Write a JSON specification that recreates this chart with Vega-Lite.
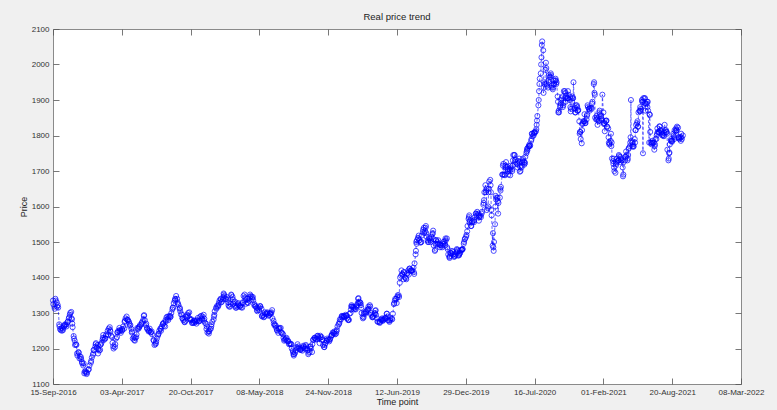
{
"$schema":"https://vega.github.io/schema/vega-lite/v6.json",
"width":688,"height":355,
"autosize":{"type":"none"},
"padding":{"left":53,"top":29,"right":36,"bottom":26},
"background":"#f0f0f0",
"config":{"view":{"stroke":"#8a8a8a","fill":"white","strokeWidth":1},"font":"Liberation Sans",
"axis":{"domain":false,"grid":false,"tickColor":"#555555","tickWidth":0.8,"labelColor":"#333333","labelFontSize":8,"labelFont":"Liberation Sans","titleFont":"Liberation Sans","titleFontSize":9,"titleFontWeight":"normal","titleColor":"#222222"}},
"title":{"text":"Real price trend","fontSize":9.5,"fontWeight":"normal","color":"#222222","offset":4,"anchor":"middle","font":"Liberation Sans"},
"datasets":{"gold":[
{"d":"2016-09-15","p":1335},{"d":"2016-09-19","p":1318},{"d":"2016-09-22","p":1340},{"d":"2016-09-26","p":1330},{"d":"2016-09-29","p":1322},
{"d":"2016-10-03","p":1268},{"d":"2016-10-06","p":1255},{"d":"2016-10-10","p":1258},{"d":"2016-10-13","p":1256},{"d":"2016-10-17","p":1265},{"d":"2016-10-20","p":1268},{"d":"2016-10-24","p":1262},{"d":"2016-10-27","p":1274},{"d":"2016-10-31","p":1285},
{"d":"2016-11-03","p":1295},{"d":"2016-11-07","p":1303},{"d":"2016-11-09","p":1282},{"d":"2016-11-11","p":1260},{"d":"2016-11-14","p":1235},{"d":"2016-11-17","p":1222},{"d":"2016-11-21","p":1212},{"d":"2016-11-24","p":1186},{"d":"2016-11-28","p":1190},
{"d":"2016-12-01","p":1172},{"d":"2016-12-05","p":1176},{"d":"2016-12-08","p":1162},{"d":"2016-12-12","p":1152},{"d":"2016-12-15","p":1130},{"d":"2016-12-19","p":1136},{"d":"2016-12-22","p":1128},{"d":"2016-12-27","p":1140},{"d":"2016-12-30","p":1152},
{"d":"2017-01-03","p":1160},{"d":"2017-01-06","p":1175},{"d":"2017-01-10","p":1186},{"d":"2017-01-13","p":1196},{"d":"2017-01-17","p":1212},{"d":"2017-01-20","p":1202},{"d":"2017-01-24","p":1186},{"d":"2017-01-27","p":1194},{"d":"2017-01-31","p":1210},
{"d":"2017-02-03","p":1216},{"d":"2017-02-07","p":1230},{"d":"2017-02-10","p":1224},{"d":"2017-02-14","p":1228},{"d":"2017-02-17","p":1240},{"d":"2017-02-21","p":1250},{"d":"2017-02-24","p":1256},{"d":"2017-02-28","p":1252},
{"d":"2017-03-03","p":1236},{"d":"2017-03-07","p":1216},{"d":"2017-03-10","p":1200},{"d":"2017-03-14","p":1204},{"d":"2017-03-17","p":1228},{"d":"2017-03-21","p":1245},{"d":"2017-03-24","p":1250},{"d":"2017-03-28","p":1248},{"d":"2017-03-31","p":1244},
{"d":"2017-04-04","p":1255},{"d":"2017-04-07","p":1262},{"d":"2017-04-11","p":1275},{"d":"2017-04-14","p":1285},{"d":"2017-04-18","p":1282},{"d":"2017-04-21","p":1280},{"d":"2017-04-25","p":1270},{"d":"2017-04-28","p":1266},
{"d":"2017-05-02","p":1245},{"d":"2017-05-05","p":1228},{"d":"2017-05-09","p":1224},{"d":"2017-05-12","p":1230},{"d":"2017-05-16","p":1240},{"d":"2017-05-19","p":1255},{"d":"2017-05-23","p":1260},{"d":"2017-05-26","p":1266},{"d":"2017-05-30","p":1268},
{"d":"2017-06-02","p":1276},{"d":"2017-06-06","p":1292},{"d":"2017-06-09","p":1280},{"d":"2017-06-13","p":1270},{"d":"2017-06-16","p":1255},{"d":"2017-06-20","p":1248},{"d":"2017-06-23","p":1256},{"d":"2017-06-27","p":1245},{"d":"2017-06-30","p":1240},
{"d":"2017-07-04","p":1224},{"d":"2017-07-07","p":1210},{"d":"2017-07-11","p":1215},{"d":"2017-07-14","p":1228},{"d":"2017-07-18","p":1240},{"d":"2017-07-21","p":1250},{"d":"2017-07-25","p":1255},{"d":"2017-07-28","p":1262},
{"d":"2017-08-01","p":1270},{"d":"2017-08-04","p":1264},{"d":"2017-08-08","p":1280},{"d":"2017-08-11","p":1288},{"d":"2017-08-15","p":1284},{"d":"2017-08-18","p":1290},{"d":"2017-08-22","p":1288},{"d":"2017-08-25","p":1300},{"d":"2017-08-29","p":1315},
{"d":"2017-09-01","p":1328},{"d":"2017-09-05","p":1340},{"d":"2017-09-08","p":1348},{"d":"2017-09-12","p":1330},{"d":"2017-09-15","p":1322},{"d":"2017-09-19","p":1314},{"d":"2017-09-22","p":1296},{"d":"2017-09-26","p":1286},{"d":"2017-09-29","p":1280},
{"d":"2017-10-03","p":1274},{"d":"2017-10-06","p":1290},{"d":"2017-10-10","p":1295},{"d":"2017-10-13","p":1300},{"d":"2017-10-17","p":1285},{"d":"2017-10-20","p":1280},{"d":"2017-10-24","p":1272},{"d":"2017-10-27","p":1275},{"d":"2017-10-31","p":1278},
{"d":"2017-11-03","p":1274},{"d":"2017-11-07","p":1280},{"d":"2017-11-10","p":1286},{"d":"2017-11-14","p":1278},{"d":"2017-11-17","p":1290},{"d":"2017-11-21","p":1285},{"d":"2017-11-24","p":1290},{"d":"2017-11-28","p":1278},
{"d":"2017-12-01","p":1272},{"d":"2017-12-05","p":1255},{"d":"2017-12-08","p":1245},{"d":"2017-12-12","p":1242},{"d":"2017-12-15","p":1254},{"d":"2017-12-19","p":1262},{"d":"2017-12-22","p":1275},{"d":"2017-12-27","p":1290},{"d":"2017-12-29","p":1305},
{"d":"2018-01-02","p":1315},{"d":"2018-01-05","p":1320},{"d":"2018-01-09","p":1322},{"d":"2018-01-12","p":1335},{"d":"2018-01-16","p":1338},{"d":"2018-01-19","p":1332},{"d":"2018-01-23","p":1345},{"d":"2018-01-25","p":1352},{"d":"2018-01-30","p":1340},
{"d":"2018-02-02","p":1345},{"d":"2018-02-06","p":1330},{"d":"2018-02-09","p":1318},{"d":"2018-02-13","p":1325},{"d":"2018-02-16","p":1350},{"d":"2018-02-20","p":1338},{"d":"2018-02-23","p":1330},{"d":"2018-02-27","p":1320},
{"d":"2018-03-02","p":1315},{"d":"2018-03-06","p":1325},{"d":"2018-03-09","p":1322},{"d":"2018-03-13","p":1320},{"d":"2018-03-16","p":1316},{"d":"2018-03-20","p":1330},{"d":"2018-03-23","p":1348},{"d":"2018-03-27","p":1344},{"d":"2018-03-30","p":1326},
{"d":"2018-04-03","p":1330},{"d":"2018-04-06","p":1340},{"d":"2018-04-10","p":1345},{"d":"2018-04-13","p":1348},{"d":"2018-04-17","p":1340},{"d":"2018-04-20","p":1336},{"d":"2018-04-24","p":1325},{"d":"2018-04-27","p":1320},
{"d":"2018-05-01","p":1308},{"d":"2018-05-04","p":1312},{"d":"2018-05-08","p":1315},{"d":"2018-05-11","p":1318},{"d":"2018-05-15","p":1292},{"d":"2018-05-18","p":1294},{"d":"2018-05-22","p":1290},{"d":"2018-05-25","p":1298},{"d":"2018-05-29","p":1300},
{"d":"2018-06-01","p":1298},{"d":"2018-06-05","p":1294},{"d":"2018-06-08","p":1300},{"d":"2018-06-12","p":1302},{"d":"2018-06-15","p":1285},{"d":"2018-06-19","p":1270},{"d":"2018-06-22","p":1268},{"d":"2018-06-26","p":1258},{"d":"2018-06-29","p":1250},
{"d":"2018-07-03","p":1255},{"d":"2018-07-06","p":1258},{"d":"2018-07-10","p":1245},{"d":"2018-07-13","p":1242},{"d":"2018-07-17","p":1230},{"d":"2018-07-20","p":1225},{"d":"2018-07-24","p":1228},{"d":"2018-07-27","p":1222},{"d":"2018-07-31","p":1220},
{"d":"2018-08-03","p":1214},{"d":"2018-08-07","p":1212},{"d":"2018-08-10","p":1200},{"d":"2018-08-14","p":1190},{"d":"2018-08-16","p":1180},{"d":"2018-08-20","p":1188},{"d":"2018-08-24","p":1204},{"d":"2018-08-28","p":1202},{"d":"2018-08-31","p":1200},
{"d":"2018-09-04","p":1196},{"d":"2018-09-07","p":1200},{"d":"2018-09-11","p":1202},{"d":"2018-09-14","p":1205},{"d":"2018-09-18","p":1200},{"d":"2018-09-21","p":1206},{"d":"2018-09-25","p":1195},{"d":"2018-09-28","p":1188},
{"d":"2018-10-02","p":1205},{"d":"2018-10-05","p":1200},{"d":"2018-10-09","p":1212},{"d":"2018-10-12","p":1225},{"d":"2018-10-16","p":1230},{"d":"2018-10-19","p":1225},{"d":"2018-10-23","p":1235},{"d":"2018-10-26","p":1232},{"d":"2018-10-30","p":1215},
{"d":"2018-11-02","p":1232},{"d":"2018-11-06","p":1224},{"d":"2018-11-09","p":1210},{"d":"2018-11-13","p":1204},{"d":"2018-11-16","p":1215},{"d":"2018-11-20","p":1222},{"d":"2018-11-23","p":1225},{"d":"2018-11-27","p":1220},{"d":"2018-11-30","p":1228},
{"d":"2018-12-04","p":1238},{"d":"2018-12-07","p":1245},{"d":"2018-12-11","p":1242},{"d":"2018-12-14","p":1240},{"d":"2018-12-18","p":1248},{"d":"2018-12-21","p":1262},{"d":"2018-12-26","p":1270},{"d":"2018-12-28","p":1282},
{"d":"2019-01-02","p":1290},{"d":"2019-01-04","p":1288},{"d":"2019-01-08","p":1292},{"d":"2019-01-11","p":1290},{"d":"2019-01-15","p":1292},{"d":"2019-01-18","p":1285},{"d":"2019-01-22","p":1282},{"d":"2019-01-25","p":1298},{"d":"2019-01-29","p":1310},{"d":"2019-01-31","p":1322},
{"d":"2019-02-04","p":1318},{"d":"2019-02-07","p":1310},{"d":"2019-02-11","p":1312},{"d":"2019-02-14","p":1318},{"d":"2019-02-18","p":1328},{"d":"2019-02-20","p":1342},{"d":"2019-02-22","p":1332},{"d":"2019-02-26","p":1328},{"d":"2019-02-28","p":1315},
{"d":"2019-03-04","p":1290},{"d":"2019-03-07","p":1288},{"d":"2019-03-11","p":1302},{"d":"2019-03-14","p":1305},{"d":"2019-03-18","p":1310},{"d":"2019-03-21","p":1318},{"d":"2019-03-25","p":1322},{"d":"2019-03-28","p":1300},
{"d":"2019-04-02","p":1290},{"d":"2019-04-04","p":1292},{"d":"2019-04-09","p":1300},{"d":"2019-04-11","p":1308},{"d":"2019-04-15","p":1285},{"d":"2019-04-18","p":1275},{"d":"2019-04-23","p":1272},{"d":"2019-04-26","p":1282},{"d":"2019-04-30","p":1285},
{"d":"2019-05-02","p":1278},{"d":"2019-05-06","p":1282},{"d":"2019-05-09","p":1285},{"d":"2019-05-13","p":1298},{"d":"2019-05-16","p":1290},{"d":"2019-05-20","p":1278},{"d":"2019-05-23","p":1280},{"d":"2019-05-28","p":1285},{"d":"2019-05-31","p":1298},
{"d":"2019-06-03","p":1325},{"d":"2019-06-06","p":1335},{"d":"2019-06-10","p":1340},{"d":"2019-06-13","p":1345},{"d":"2019-06-17","p":1350},{"d":"2019-06-20","p":1385},{"d":"2019-06-24","p":1405},{"d":"2019-06-27","p":1410},
{"d":"2019-07-01","p":1395},{"d":"2019-07-03","p":1415},{"d":"2019-07-08","p":1398},{"d":"2019-07-11","p":1410},{"d":"2019-07-15","p":1420},{"d":"2019-07-18","p":1425},{"d":"2019-07-22","p":1420},{"d":"2019-07-25","p":1418},{"d":"2019-07-30","p":1428},
{"d":"2019-08-02","p":1440},{"d":"2019-08-05","p":1465},{"d":"2019-08-07","p":1500},{"d":"2019-08-09","p":1505},{"d":"2019-08-13","p":1510},{"d":"2019-08-16","p":1505},{"d":"2019-08-20","p":1500},{"d":"2019-08-23","p":1518},{"d":"2019-08-27","p":1535},{"d":"2019-08-30","p":1525},
{"d":"2019-09-03","p":1540},{"d":"2019-09-04","p":1545},{"d":"2019-09-06","p":1515},{"d":"2019-09-10","p":1500},{"d":"2019-09-13","p":1510},{"d":"2019-09-17","p":1505},{"d":"2019-09-20","p":1515},{"d":"2019-09-24","p":1525},{"d":"2019-09-27","p":1490},{"d":"2019-09-30","p":1475},
{"d":"2019-10-02","p":1495},{"d":"2019-10-04","p":1505},{"d":"2019-10-08","p":1500},{"d":"2019-10-11","p":1495},{"d":"2019-10-15","p":1485},{"d":"2019-10-18","p":1490},{"d":"2019-10-22","p":1490},{"d":"2019-10-25","p":1500},{"d":"2019-10-29","p":1495},{"d":"2019-10-31","p":1510},
{"d":"2019-11-01","p":1505},{"d":"2019-11-05","p":1485},{"d":"2019-11-08","p":1465},{"d":"2019-11-12","p":1455},{"d":"2019-11-14","p":1470},{"d":"2019-11-18","p":1468},{"d":"2019-11-21","p":1472},{"d":"2019-11-26","p":1462},{"d":"2019-11-29","p":1465},
{"d":"2019-12-02","p":1470},{"d":"2019-12-05","p":1475},{"d":"2019-12-09","p":1462},{"d":"2019-12-12","p":1475},{"d":"2019-12-16","p":1478},{"d":"2019-12-19","p":1480},{"d":"2019-12-23","p":1495},{"d":"2019-12-27","p":1510},{"d":"2019-12-31","p":1520},
{"d":"2020-01-03","p":1545},{"d":"2020-01-07","p":1570},{"d":"2020-01-09","p":1555},{"d":"2020-01-13","p":1545},{"d":"2020-01-16","p":1555},{"d":"2020-01-21","p":1560},{"d":"2020-01-24","p":1570},{"d":"2020-01-28","p":1580},{"d":"2020-01-31","p":1585},
{"d":"2020-02-04","p":1575},{"d":"2020-02-06","p":1570},{"d":"2020-02-10","p":1575},{"d":"2020-02-13","p":1580},{"d":"2020-02-18","p":1605},{"d":"2020-02-20","p":1618},{"d":"2020-02-24","p":1660},{"d":"2020-02-26","p":1645},{"d":"2020-02-28","p":1590},
{"d":"2020-03-02","p":1595},{"d":"2020-03-04","p":1640},{"d":"2020-03-06","p":1670},{"d":"2020-03-09","p":1675},{"d":"2020-03-11","p":1640},{"d":"2020-03-13","p":1575},{"d":"2020-03-16","p":1490},{"d":"2020-03-19","p":1475},{"d":"2020-03-20","p":1500},{"d":"2020-03-24","p":1600},{"d":"2020-03-26","p":1620},{"d":"2020-03-31","p":1615},
{"d":"2020-04-01","p":1580},{"d":"2020-04-06","p":1625},{"d":"2020-04-09","p":1655},{"d":"2020-04-14","p":1690},{"d":"2020-04-15","p":1715},{"d":"2020-04-20","p":1690},{"d":"2020-04-23","p":1710},{"d":"2020-04-24","p":1725},{"d":"2020-04-29","p":1700},
{"d":"2020-05-01","p":1690},{"d":"2020-05-05","p":1700},{"d":"2020-05-08","p":1710},{"d":"2020-05-11","p":1705},{"d":"2020-05-14","p":1730},{"d":"2020-05-18","p":1745},{"d":"2020-05-20","p":1730},{"d":"2020-05-26","p":1720},{"d":"2020-05-29","p":1728},
{"d":"2020-06-01","p":1735},{"d":"2020-06-05","p":1700},{"d":"2020-06-08","p":1710},{"d":"2020-06-10","p":1725},{"d":"2020-06-12","p":1735},{"d":"2020-06-16","p":1718},{"d":"2020-06-19","p":1740},{"d":"2020-06-23","p":1755},{"d":"2020-06-26","p":1765},{"d":"2020-06-30","p":1770},
{"d":"2020-07-02","p":1770},{"d":"2020-07-06","p":1785},{"d":"2020-07-08","p":1805},{"d":"2020-07-13","p":1800},{"d":"2020-07-16","p":1810},{"d":"2020-07-20","p":1812},{"d":"2020-07-22","p":1830},{"d":"2020-07-24","p":1855},{"d":"2020-07-27","p":1885},{"d":"2020-07-29","p":1925},{"d":"2020-07-31","p":1960},
{"d":"2020-08-03","p":1975},{"d":"2020-08-05","p":2020},{"d":"2020-08-06","p":2055},{"d":"2020-08-07","p":2065},{"d":"2020-08-10","p":2040},{"d":"2020-08-11","p":1920},{"d":"2020-08-13","p":1950},{"d":"2020-08-17","p":1985},{"d":"2020-08-18","p":2005},{"d":"2020-08-21","p":1940},{"d":"2020-08-25","p":1955},{"d":"2020-08-27","p":1970},{"d":"2020-08-31","p":1965},
{"d":"2020-09-02","p":1970},{"d":"2020-09-04","p":1935},{"d":"2020-09-08","p":1935},{"d":"2020-09-10","p":1955},{"d":"2020-09-15","p":1960},{"d":"2020-09-17","p":1945},{"d":"2020-09-21","p":1910},{"d":"2020-09-24","p":1870},{"d":"2020-09-28","p":1880},{"d":"2020-09-30","p":1890},
{"d":"2020-10-02","p":1905},{"d":"2020-10-06","p":1880},{"d":"2020-10-09","p":1925},{"d":"2020-10-13","p":1920},{"d":"2020-10-16","p":1905},{"d":"2020-10-20","p":1905},{"d":"2020-10-23","p":1915},{"d":"2020-10-28","p":1880},{"d":"2020-10-30","p":1875},
{"d":"2020-11-02","p":1895},{"d":"2020-11-05","p":1905},{"d":"2020-11-06","p":1950},{"d":"2020-11-09","p":1875},{"d":"2020-11-12","p":1865},{"d":"2020-11-16","p":1885},{"d":"2020-11-19","p":1870},{"d":"2020-11-23","p":1840},{"d":"2020-11-24","p":1805},{"d":"2020-11-26","p":1810},{"d":"2020-11-30","p":1778},
{"d":"2020-12-01","p":1815},{"d":"2020-12-03","p":1835},{"d":"2020-12-07","p":1840},{"d":"2020-12-08","p":1860},{"d":"2020-12-11","p":1835},{"d":"2020-12-15","p":1855},{"d":"2020-12-18","p":1880},{"d":"2020-12-22","p":1875},{"d":"2020-12-24","p":1878},{"d":"2020-12-30","p":1890},
{"d":"2021-01-04","p":1945},{"d":"2021-01-05","p":1950},{"d":"2021-01-07","p":1915},{"d":"2021-01-08","p":1850},{"d":"2021-01-11","p":1845},{"d":"2021-01-14","p":1845},{"d":"2021-01-15","p":1830},{"d":"2021-01-20","p":1865},{"d":"2021-01-22","p":1860},{"d":"2021-01-26","p":1848},{"d":"2021-01-29","p":1915},
{"d":"2021-02-01","p":1865},{"d":"2021-02-02","p":1835},{"d":"2021-02-04","p":1835},{"d":"2021-02-08","p":1840},{"d":"2021-02-10","p":1842},{"d":"2021-02-12","p":1825},{"d":"2021-02-16","p":1795},{"d":"2021-02-18","p":1775},{"d":"2021-02-22","p":1785},{"d":"2021-02-24","p":1770},{"d":"2021-02-26","p":1735},
{"d":"2021-03-02","p":1720},{"d":"2021-03-04","p":1710},{"d":"2021-03-08","p":1695},{"d":"2021-03-10","p":1720},{"d":"2021-03-12","p":1735},{"d":"2021-03-16","p":1730},{"d":"2021-03-18","p":1745},{"d":"2021-03-22","p":1740},{"d":"2021-03-25","p":1730},{"d":"2021-03-31","p":1690},
{"d":"2021-04-01","p":1725},{"d":"2021-04-06","p":1740},{"d":"2021-04-09","p":1745},{"d":"2021-04-13","p":1735},{"d":"2021-04-16","p":1765},{"d":"2021-04-20","p":1780},{"d":"2021-04-22","p":1900},{"d":"2021-04-23","p":1785},{"d":"2021-04-27","p":1770},{"d":"2021-04-30","p":1770},
{"d":"2021-05-03","p":1790},{"d":"2021-05-05","p":1815},{"d":"2021-05-07","p":1830},{"d":"2021-05-11","p":1840},{"d":"2021-05-14","p":1865},{"d":"2021-05-17","p":1870},{"d":"2021-05-19","p":1880},{"d":"2021-05-21","p":1875},{"d":"2021-05-24","p":1900},{"d":"2021-05-26","p":1895},{"d":"2021-05-27","p":1750},{"d":"2021-05-28","p":1905},
{"d":"2021-06-01","p":1890},{"d":"2021-06-03","p":1870},{"d":"2021-06-07","p":1890},{"d":"2021-06-09","p":1880},{"d":"2021-06-11","p":1870},{"d":"2021-06-14","p":1780},{"d":"2021-06-15","p":1860},{"d":"2021-06-17","p":1810},{"d":"2021-06-18","p":1780},{"d":"2021-06-21","p":1775},{"d":"2021-06-24","p":1785},{"d":"2021-06-28","p":1780},{"d":"2021-06-30","p":1770},
{"d":"2021-07-02","p":1790},{"d":"2021-07-06","p":1800},{"d":"2021-07-08","p":1820},{"d":"2021-07-12","p":1810},{"d":"2021-07-15","p":1825},{"d":"2021-07-19","p":1815},{"d":"2021-07-22","p":1800},{"d":"2021-07-26","p":1800},{"d":"2021-07-29","p":1830},
{"d":"2021-08-02","p":1815},{"d":"2021-08-04","p":1810},{"d":"2021-08-06","p":1760},{"d":"2021-08-09","p":1730},{"d":"2021-08-11","p":1750},{"d":"2021-08-13","p":1775},{"d":"2021-08-17","p":1790},{"d":"2021-08-20","p":1785},{"d":"2021-08-24","p":1800},{"d":"2021-08-27","p":1815},{"d":"2021-08-31","p":1820},
{"d":"2021-09-02","p":1815},{"d":"2021-09-03","p":1825},{"d":"2021-09-07","p":1795},{"d":"2021-09-10","p":1790},{"d":"2021-09-14","p":1785},{"d":"2021-09-16","p":1795},{"d":"2021-09-20","p":1800},
{"d":"2016-09-16","p":1325},{"d":"2016-09-20","p":1312},{"d":"2016-09-23","p":1335},{"d":"2016-09-27","p":1318},{"d":"2016-09-30","p":1315},
{"d":"2016-10-04","p":1262},{"d":"2016-10-07","p":1252},{"d":"2016-10-11","p":1250},{"d":"2016-10-14","p":1252},{"d":"2016-10-18","p":1262},{"d":"2016-10-21","p":1266},{"d":"2016-10-25","p":1268},{"d":"2016-10-28","p":1276},{"d":"2016-11-01","p":1288},
{"d":"2016-11-04","p":1300},{"d":"2016-11-08","p":1285},{"d":"2016-11-10","p":1270},{"d":"2016-11-15","p":1228},{"d":"2016-11-18","p":1210},{"d":"2016-11-22","p":1210},{"d":"2016-11-25","p":1180},{"d":"2016-11-29","p":1188},
{"d":"2016-12-02","p":1178},{"d":"2016-12-06","p":1170},{"d":"2016-12-09","p":1158},{"d":"2016-12-13","p":1158},{"d":"2016-12-16","p":1135},{"d":"2016-12-20","p":1132},{"d":"2016-12-23","p":1132},{"d":"2016-12-28","p":1142},
{"d":"2017-01-04","p":1165},{"d":"2017-01-09","p":1182},{"d":"2017-01-11","p":1196},{"d":"2017-01-16","p":1205},{"d":"2017-01-18","p":1215},{"d":"2017-01-23","p":1210},{"d":"2017-01-25","p":1198},{"d":"2017-01-30","p":1196},
{"d":"2017-02-01","p":1212},{"d":"2017-02-06","p":1225},{"d":"2017-02-08","p":1238},{"d":"2017-02-13","p":1228},{"d":"2017-02-16","p":1236},{"d":"2017-02-22","p":1238},{"d":"2017-02-27","p":1260},
{"d":"2017-03-01","p":1248},{"d":"2017-03-06","p":1232},{"d":"2017-03-09","p":1206},{"d":"2017-03-15","p":1212},{"d":"2017-03-20","p":1232},{"d":"2017-03-22","p":1246},{"d":"2017-03-27","p":1258},{"d":"2017-03-29","p":1252},
{"d":"2017-04-03","p":1250},{"d":"2017-04-05","p":1252},{"d":"2017-04-10","p":1256},{"d":"2017-04-12","p":1278},{"d":"2017-04-17","p":1290},{"d":"2017-04-20","p":1280},{"d":"2017-04-24","p":1275},{"d":"2017-04-26","p":1264},
{"d":"2017-05-01","p":1255},{"d":"2017-05-03","p":1248},{"d":"2017-05-08","p":1232},{"d":"2017-05-11","p":1222},{"d":"2017-05-15","p":1232},{"d":"2017-05-18","p":1258},{"d":"2017-05-22","p":1256},{"d":"2017-05-25","p":1262},{"d":"2017-05-31","p":1272},
{"d":"2017-06-05","p":1282},{"d":"2017-06-07","p":1294},{"d":"2017-06-12","p":1266},{"d":"2017-06-15","p":1258},{"d":"2017-06-19","p":1252},{"d":"2017-06-22","p":1250},{"d":"2017-06-26","p":1246},{"d":"2017-06-29","p":1248},
{"d":"2017-07-05","p":1222},{"d":"2017-07-10","p":1212},{"d":"2017-07-12","p":1220},{"d":"2017-07-17","p":1236},{"d":"2017-07-19","p":1242},{"d":"2017-07-24","p":1256},{"d":"2017-07-26","p":1250},{"d":"2017-07-31","p":1268},
{"d":"2017-08-02","p":1272},{"d":"2017-08-07","p":1262},{"d":"2017-08-09","p":1276},{"d":"2017-08-14","p":1290},{"d":"2017-08-16","p":1280},{"d":"2017-08-21","p":1292},{"d":"2017-08-23","p":1290},{"d":"2017-08-28","p":1310},{"d":"2017-08-30","p":1315},
{"d":"2017-09-04","p":1335},{"d":"2017-09-06","p":1338},{"d":"2017-09-11","p":1340},{"d":"2017-09-13","p":1326},{"d":"2017-09-18","p":1312},{"d":"2017-09-20","p":1305},{"d":"2017-09-25","p":1296},{"d":"2017-09-27","p":1284},
{"d":"2017-10-02","p":1275},{"d":"2017-10-05","p":1278},{"d":"2017-10-09","p":1288},{"d":"2017-10-12","p":1292},{"d":"2017-10-16","p":1302},{"d":"2017-10-19","p":1282},{"d":"2017-10-23","p":1282},{"d":"2017-10-26","p":1272},{"d":"2017-10-30","p":1272},
{"d":"2017-11-01","p":1278},{"d":"2017-11-06","p":1270},{"d":"2017-11-08","p":1278},{"d":"2017-11-13","p":1276},{"d":"2017-11-16","p":1278},{"d":"2017-11-20","p":1292},{"d":"2017-11-22","p":1282},{"d":"2017-11-27","p":1295},{"d":"2017-11-29","p":1284},
{"d":"2017-12-04","p":1270},{"d":"2017-12-06","p":1262},{"d":"2017-12-11","p":1248},{"d":"2017-12-13","p":1248},{"d":"2017-12-18","p":1256},{"d":"2017-12-20","p":1268},{"d":"2017-12-26","p":1282},{"d":"2017-12-28","p":1295},
{"d":"2018-01-03","p":1312},{"d":"2018-01-08","p":1318},{"d":"2018-01-10","p":1328},{"d":"2018-01-15","p":1340},{"d":"2018-01-17","p":1330},{"d":"2018-01-22","p":1338},{"d":"2018-01-24","p":1355},{"d":"2018-01-26","p":1348},{"d":"2018-02-01","p":1338},
{"d":"2018-02-05","p":1338},{"d":"2018-02-07","p":1322},{"d":"2018-02-12","p":1318},{"d":"2018-02-15","p":1352},{"d":"2018-02-19","p":1345},{"d":"2018-02-21","p":1326},{"d":"2018-02-26","p":1332},{"d":"2018-02-28","p":1315},
{"d":"2018-03-05","p":1318},{"d":"2018-03-07","p":1328},{"d":"2018-03-12","p":1318},{"d":"2018-03-14","p":1322},{"d":"2018-03-19","p":1315},{"d":"2018-03-21","p":1328},{"d":"2018-03-26","p":1352},{"d":"2018-03-28","p":1335},
{"d":"2018-04-02","p":1340},{"d":"2018-04-05","p":1328},{"d":"2018-04-09","p":1335},{"d":"2018-04-11","p":1352},{"d":"2018-04-16","p":1345},{"d":"2018-04-19","p":1345},{"d":"2018-04-23","p":1322},{"d":"2018-04-26","p":1318},{"d":"2018-04-30","p":1315},
{"d":"2018-05-02","p":1305},{"d":"2018-05-07","p":1308},{"d":"2018-05-10","p":1320},{"d":"2018-05-14","p":1312},{"d":"2018-05-16","p":1290},{"d":"2018-05-21","p":1288},{"d":"2018-05-24","p":1302},{"d":"2018-05-28","p":1296},{"d":"2018-05-31","p":1302},
{"d":"2018-06-04","p":1292},{"d":"2018-06-07","p":1298},{"d":"2018-06-11","p":1298},{"d":"2018-06-14","p":1308},{"d":"2018-06-18","p":1278},{"d":"2018-06-21","p":1265},{"d":"2018-06-25","p":1264},{"d":"2018-06-28","p":1252},
{"d":"2018-07-02","p":1244},{"d":"2018-07-05","p":1256},{"d":"2018-07-09","p":1258},{"d":"2018-07-12","p":1245},{"d":"2018-07-16","p":1240},{"d":"2018-07-19","p":1222},{"d":"2018-07-23","p":1225},{"d":"2018-07-26","p":1230},{"d":"2018-07-30","p":1222},
{"d":"2018-08-02","p":1212},{"d":"2018-08-06","p":1214},{"d":"2018-08-09","p":1212},{"d":"2018-08-13","p":1194},{"d":"2018-08-15","p":1184},{"d":"2018-08-17","p":1184},{"d":"2018-08-22","p":1195},{"d":"2018-08-27","p":1212},{"d":"2018-08-29","p":1206},
{"d":"2018-09-03","p":1198},{"d":"2018-09-06","p":1196},{"d":"2018-09-10","p":1194},{"d":"2018-09-13","p":1208},{"d":"2018-09-17","p":1200},{"d":"2018-09-20","p":1210},{"d":"2018-09-24","p":1200},{"d":"2018-09-27","p":1184},
{"d":"2018-10-01","p":1190},{"d":"2018-10-04","p":1206},{"d":"2018-10-08","p":1190},{"d":"2018-10-11","p":1224},{"d":"2018-10-15","p":1230},{"d":"2018-10-18","p":1228},{"d":"2018-10-22","p":1226},{"d":"2018-10-25","p":1236},{"d":"2018-10-29","p":1228},
{"d":"2018-11-01","p":1236},{"d":"2018-11-05","p":1232},{"d":"2018-11-07","p":1226},{"d":"2018-11-12","p":1204},{"d":"2018-11-14","p":1210},{"d":"2018-11-19","p":1222},{"d":"2018-11-21","p":1228},{"d":"2018-11-26","p":1224},{"d":"2018-11-29","p":1225},
{"d":"2018-12-03","p":1235},{"d":"2018-12-05","p":1238},{"d":"2018-12-10","p":1244},{"d":"2018-12-12","p":1248},{"d":"2018-12-17","p":1242},{"d":"2018-12-19","p":1252},{"d":"2018-12-24","p":1268},{"d":"2018-12-27","p":1275},{"d":"2018-12-31","p":1282},
{"d":"2019-01-03","p":1292},{"d":"2019-01-07","p":1290},{"d":"2019-01-09","p":1288},{"d":"2019-01-14","p":1295},{"d":"2019-01-16","p":1292},{"d":"2019-01-21","p":1280},{"d":"2019-01-23","p":1280},{"d":"2019-01-28","p":1300},{"d":"2019-01-30","p":1318},
{"d":"2019-02-01","p":1318},{"d":"2019-02-05","p":1315},{"d":"2019-02-08","p":1315},{"d":"2019-02-12","p":1310},{"d":"2019-02-15","p":1322},{"d":"2019-02-19","p":1340},{"d":"2019-02-21","p":1328},{"d":"2019-02-25","p":1330},{"d":"2019-02-27","p":1322},
{"d":"2019-03-01","p":1300},{"d":"2019-03-05","p":1285},{"d":"2019-03-08","p":1298},{"d":"2019-03-12","p":1298},{"d":"2019-03-15","p":1302},{"d":"2019-03-19","p":1308},{"d":"2019-03-22","p":1312},{"d":"2019-03-26","p":1318},{"d":"2019-03-29","p":1295},
{"d":"2019-04-01","p":1288},{"d":"2019-04-03","p":1288},{"d":"2019-04-08","p":1298},{"d":"2019-04-10","p":1306},{"d":"2019-04-12","p":1295},{"d":"2019-04-16","p":1276},{"d":"2019-04-22","p":1275},{"d":"2019-04-24","p":1275},{"d":"2019-04-29","p":1280},
{"d":"2019-05-01","p":1282},{"d":"2019-05-03","p":1280},{"d":"2019-05-07","p":1285},{"d":"2019-05-10","p":1286},{"d":"2019-05-14","p":1298},{"d":"2019-05-17","p":1280},{"d":"2019-05-21","p":1275},{"d":"2019-05-24","p":1285},{"d":"2019-05-29","p":1282},
{"d":"2019-06-04","p":1328},{"d":"2019-06-07","p":1340},{"d":"2019-06-11","p":1328},{"d":"2019-06-14","p":1350},{"d":"2019-06-18","p":1345},{"d":"2019-06-21","p":1400},{"d":"2019-06-25","p":1420},{"d":"2019-06-28","p":1408},
{"d":"2019-07-02","p":1415},{"d":"2019-07-05","p":1400},{"d":"2019-07-09","p":1395},{"d":"2019-07-12","p":1412},{"d":"2019-07-16","p":1408},{"d":"2019-07-19","p":1425},{"d":"2019-07-23","p":1420},{"d":"2019-07-26","p":1420},{"d":"2019-07-31","p":1415},
{"d":"2019-08-01","p":1410},{"d":"2019-08-06","p":1475},{"d":"2019-08-08","p":1495},{"d":"2019-08-12","p":1512},{"d":"2019-08-14","p":1518},{"d":"2019-08-19","p":1498},{"d":"2019-08-22","p":1500},{"d":"2019-08-26","p":1528},{"d":"2019-08-29","p":1540},
{"d":"2019-09-02","p":1530},{"d":"2019-09-05","p":1525},{"d":"2019-09-09","p":1505},{"d":"2019-09-12","p":1500},{"d":"2019-09-16","p":1510},{"d":"2019-09-18","p":1500},{"d":"2019-09-23","p":1522},{"d":"2019-09-25","p":1532},{"d":"2019-09-26","p":1508},
{"d":"2019-10-01","p":1478},{"d":"2019-10-03","p":1505},{"d":"2019-10-07","p":1495},{"d":"2019-10-10","p":1505},{"d":"2019-10-14","p":1492},{"d":"2019-10-16","p":1492},{"d":"2019-10-21","p":1485},{"d":"2019-10-24","p":1495},{"d":"2019-10-28","p":1502},{"d":"2019-10-30","p":1490},
{"d":"2019-11-04","p":1510},{"d":"2019-11-06","p":1480},{"d":"2019-11-11","p":1458},{"d":"2019-11-13","p":1460},{"d":"2019-11-15","p":1468},{"d":"2019-11-19","p":1475},{"d":"2019-11-22","p":1465},{"d":"2019-11-25","p":1458},{"d":"2019-11-27","p":1460},
{"d":"2019-12-03","p":1480},{"d":"2019-12-04","p":1478},{"d":"2019-12-06","p":1462},{"d":"2019-12-10","p":1465},{"d":"2019-12-11","p":1468},{"d":"2019-12-13","p":1470},{"d":"2019-12-17","p":1478},{"d":"2019-12-18","p":1478},{"d":"2019-12-20","p":1480},{"d":"2019-12-24","p":1500},{"d":"2019-12-26","p":1508},{"d":"2019-12-30","p":1515},
{"d":"2020-01-02","p":1530},{"d":"2020-01-06","p":1565},{"d":"2020-01-08","p":1575},{"d":"2020-01-10","p":1560},{"d":"2020-01-14","p":1545},{"d":"2020-01-17","p":1558},{"d":"2020-01-22","p":1556},{"d":"2020-01-23","p":1562},{"d":"2020-01-27","p":1580},{"d":"2020-01-29","p":1575},
{"d":"2020-02-03","p":1580},{"d":"2020-02-05","p":1560},{"d":"2020-02-07","p":1572},{"d":"2020-02-11","p":1570},{"d":"2020-02-14","p":1585},{"d":"2020-02-19","p":1610},{"d":"2020-02-21","p":1640},{"d":"2020-02-25","p":1640},{"d":"2020-02-27","p":1650},
{"d":"2020-03-03","p":1600},{"d":"2020-03-05","p":1650},{"d":"2020-03-10","p":1660},{"d":"2020-03-12","p":1590},{"d":"2020-03-17","p":1525},{"d":"2020-03-18","p":1485},{"d":"2020-03-23","p":1550},{"d":"2020-03-25","p":1630},{"d":"2020-03-27","p":1625},{"d":"2020-03-30","p":1625},
{"d":"2020-04-02","p":1610},{"d":"2020-04-07","p":1650},{"d":"2020-04-08","p":1645},{"d":"2020-04-13","p":1690},{"d":"2020-04-16","p":1720},{"d":"2020-04-17","p":1690},{"d":"2020-04-21","p":1688},{"d":"2020-04-22","p":1715},{"d":"2020-04-27","p":1712},{"d":"2020-04-28","p":1705},{"d":"2020-04-30","p":1705},
{"d":"2020-05-04","p":1705},{"d":"2020-05-06","p":1688},{"d":"2020-05-07","p":1715},{"d":"2020-05-12","p":1700},{"d":"2020-05-13","p":1715},{"d":"2020-05-15","p":1745},{"d":"2020-05-19","p":1745},{"d":"2020-05-21","p":1725},{"d":"2020-05-22","p":1732},{"d":"2020-05-27","p":1710},{"d":"2020-05-28","p":1718},
{"d":"2020-06-02","p":1725},{"d":"2020-06-03","p":1698},{"d":"2020-06-04","p":1712},{"d":"2020-06-09","p":1715},{"d":"2020-06-11","p":1730},{"d":"2020-06-15","p":1725},{"d":"2020-06-17","p":1725},{"d":"2020-06-18","p":1722},{"d":"2020-06-22","p":1750},{"d":"2020-06-24","p":1762},{"d":"2020-06-25","p":1758},{"d":"2020-06-29","p":1770},
{"d":"2020-07-01","p":1775},{"d":"2020-07-03","p":1772},{"d":"2020-07-07","p":1790},{"d":"2020-07-09","p":1805},{"d":"2020-07-10","p":1798},{"d":"2020-07-14","p":1805},{"d":"2020-07-15","p":1808},{"d":"2020-07-17","p":1808},{"d":"2020-07-21","p":1818},{"d":"2020-07-23","p":1842},{"d":"2020-07-28","p":1900},{"d":"2020-07-30","p":1945},
{"d":"2020-08-04","p":2000},{"d":"2020-08-12","p":1935},{"d":"2020-08-14","p":1945},{"d":"2020-08-19","p":1990},{"d":"2020-08-20","p":1945},{"d":"2020-08-24","p":1935},{"d":"2020-08-26","p":1950},{"d":"2020-08-28","p":1965},
{"d":"2020-09-01","p":1975},{"d":"2020-09-03","p":1940},{"d":"2020-09-07","p":1930},{"d":"2020-09-09","p":1945},{"d":"2020-09-11","p":1945},{"d":"2020-09-14","p":1955},{"d":"2020-09-16","p":1955},{"d":"2020-09-18","p":1950},{"d":"2020-09-22","p":1895},{"d":"2020-09-23","p":1865},{"d":"2020-09-25","p":1865},{"d":"2020-09-29","p":1885},
{"d":"2020-10-01","p":1900},{"d":"2020-10-05","p":1910},{"d":"2020-10-07","p":1885},{"d":"2020-10-08","p":1892},{"d":"2020-10-12","p":1925},{"d":"2020-10-14","p":1895},{"d":"2020-10-15","p":1910},{"d":"2020-10-19","p":1905},{"d":"2020-10-21","p":1925},{"d":"2020-10-22","p":1905},{"d":"2020-10-26","p":1900},{"d":"2020-10-27","p":1908},{"d":"2020-10-29","p":1868},
{"d":"2020-11-03","p":1910},{"d":"2020-11-04","p":1905},{"d":"2020-11-10","p":1878},{"d":"2020-11-11","p":1865},{"d":"2020-11-13","p":1885},{"d":"2020-11-17","p":1880},{"d":"2020-11-18","p":1870},{"d":"2020-11-20","p":1872},{"d":"2020-11-25","p":1810},{"d":"2020-11-27","p":1790},
{"d":"2020-12-02","p":1832},{"d":"2020-12-04","p":1840},{"d":"2020-12-09","p":1840},{"d":"2020-12-10","p":1835},{"d":"2020-12-14","p":1845},{"d":"2020-12-16","p":1860},{"d":"2020-12-17","p":1885},{"d":"2020-12-21","p":1875},{"d":"2020-12-23","p":1870},{"d":"2020-12-28","p":1878},{"d":"2020-12-29","p":1875},{"d":"2020-12-31","p":1895},
{"d":"2021-01-06","p":1920},{"d":"2021-01-12","p":1855},{"d":"2021-01-13","p":1850},{"d":"2021-01-18","p":1840},{"d":"2021-01-19","p":1842},{"d":"2021-01-21","p":1870},{"d":"2021-01-25","p":1855},{"d":"2021-01-27","p":1842},{"d":"2021-01-28","p":1845},
{"d":"2021-02-03","p":1832},{"d":"2021-02-05","p":1812},{"d":"2021-02-09","p":1842},{"d":"2021-02-11","p":1825},{"d":"2021-02-15","p":1820},{"d":"2021-02-17","p":1780},{"d":"2021-02-19","p":1778},{"d":"2021-02-23","p":1805},{"d":"2021-02-25","p":1780},
{"d":"2021-03-01","p":1728},{"d":"2021-03-03","p":1735},{"d":"2021-03-05","p":1700},{"d":"2021-03-09","p":1715},{"d":"2021-03-11","p":1725},{"d":"2021-03-15","p":1728},{"d":"2021-03-17","p":1730},{"d":"2021-03-19","p":1742},{"d":"2021-03-23","p":1725},{"d":"2021-03-24","p":1735},{"d":"2021-03-26","p":1730},{"d":"2021-03-29","p":1710},{"d":"2021-03-30","p":1685},
{"d":"2021-04-05","p":1730},{"d":"2021-04-07","p":1740},{"d":"2021-04-08","p":1755},{"d":"2021-04-12","p":1730},{"d":"2021-04-14","p":1745},{"d":"2021-04-15","p":1762},{"d":"2021-04-19","p":1770},{"d":"2021-04-21","p":1795},{"d":"2021-04-26","p":1780},{"d":"2021-04-28","p":1775},{"d":"2021-04-29","p":1768},
{"d":"2021-05-04","p":1780},{"d":"2021-05-06","p":1815},{"d":"2021-05-10","p":1835},{"d":"2021-05-12","p":1825},{"d":"2021-05-13","p":1825},{"d":"2021-05-18","p":1868},{"d":"2021-05-20","p":1870},{"d":"2021-05-25","p":1895},{"d":"2021-05-31","p":1905},
{"d":"2021-06-02","p":1905},{"d":"2021-06-04","p":1890},{"d":"2021-06-08","p":1895},{"d":"2021-06-10","p":1895},{"d":"2021-06-16","p":1858},{"d":"2021-06-22","p":1780},{"d":"2021-06-23","p":1778},{"d":"2021-06-25","p":1780},{"d":"2021-06-29","p":1760},
{"d":"2021-07-01","p":1775},{"d":"2021-07-05","p":1790},{"d":"2021-07-07","p":1805},{"d":"2021-07-09","p":1810},{"d":"2021-07-13","p":1808},{"d":"2021-07-14","p":1826},{"d":"2021-07-16","p":1815},{"d":"2021-07-20","p":1810},{"d":"2021-07-21","p":1805},{"d":"2021-07-23","p":1802},{"d":"2021-07-27","p":1798},{"d":"2021-07-28","p":1808},{"d":"2021-07-30","p":1815},
{"d":"2021-08-03","p":1810},{"d":"2021-08-05","p":1805},{"d":"2021-08-10","p":1735},{"d":"2021-08-12","p":1752},{"d":"2021-08-16","p":1785},{"d":"2021-08-18","p":1785},{"d":"2021-08-19","p":1782},{"d":"2021-08-23","p":1805},{"d":"2021-08-25","p":1795},{"d":"2021-08-26","p":1790},{"d":"2021-08-30","p":1812},
{"d":"2021-09-01","p":1815},{"d":"2021-09-06","p":1822},{"d":"2021-09-08","p":1792},{"d":"2021-09-09","p":1795},{"d":"2021-09-13","p":1795},{"d":"2021-09-15","p":1805},{"d":"2021-09-17","p":1790}
]},
"data":{"name":"gold"},
"layer":[
{"mark":{"type":"line","color":"#0000ff","strokeWidth":0.6,"strokeDash":[3,2]},
 "encoding":{
  "x":{"field":"d","type":"temporal","scale":{"type":"utc","nice":false,"domain":[{"year":2016,"month":9,"date":15,"utc":true},{"year":2022,"month":3,"date":8,"utc":true}]},"axis":null},
  "y":{"field":"p","type":"quantitative","scale":{"domain":[1100,2100],"nice":false,"zero":false},"axis":null}}},
{"mark":{"type":"point","shape":"circle","filled":false,"color":"#0000ff","size":26,"strokeWidth":1},
 "encoding":{
  "x":{"field":"d","type":"temporal","title":"Time point",
   "axis":{"orient":"bottom","labelExpr":"utcFormat(datum.value, '%d-%b-%Y')","tickSize":-6,"labelPadding":10,"titlePadding":1,"labelFlush":false,
    "values":[{"year":2016,"month":9,"date":15,"utc":true},{"year":2017,"month":4,"date":3,"utc":true},{"year":2017,"month":10,"date":20,"utc":true},{"year":2018,"month":5,"date":8,"utc":true},{"year":2018,"month":11,"date":24,"utc":true},{"year":2019,"month":6,"date":12,"utc":true},{"year":2019,"month":12,"date":29,"utc":true},{"year":2020,"month":7,"date":16,"utc":true},{"year":2021,"month":2,"date":1,"utc":true},{"year":2021,"month":8,"date":20,"utc":true},{"year":2022,"month":3,"date":8,"utc":true}]}},
  "y":{"field":"p","type":"quantitative","title":"Price",
   "axis":{"orient":"left","format":"d","tickSize":-6,"labelPadding":10,"titlePadding":3,"values":[1100,1200,1300,1400,1500,1600,1700,1800,1900,2000,2100]}}}},
{"mark":{"type":"point","opacity":0},
 "encoding":{
  "x":{"field":"d","type":"temporal",
   "axis":{"orient":"top","labels":false,"title":null,"tickSize":-6,
    "values":[{"year":2016,"month":9,"date":15,"utc":true},{"year":2017,"month":4,"date":3,"utc":true},{"year":2017,"month":10,"date":20,"utc":true},{"year":2018,"month":5,"date":8,"utc":true},{"year":2018,"month":11,"date":24,"utc":true},{"year":2019,"month":6,"date":12,"utc":true},{"year":2019,"month":12,"date":29,"utc":true},{"year":2020,"month":7,"date":16,"utc":true},{"year":2021,"month":2,"date":1,"utc":true},{"year":2021,"month":8,"date":20,"utc":true},{"year":2022,"month":3,"date":8,"utc":true}]}},
  "y":{"field":"p","type":"quantitative",
   "axis":{"orient":"right","labels":false,"title":null,"tickSize":-6,"values":[1100,1200,1300,1400,1500,1600,1700,1800,1900,2000,2100]}}}}
],
"resolve":{"axis":{"x":"independent","y":"independent"}}
}
